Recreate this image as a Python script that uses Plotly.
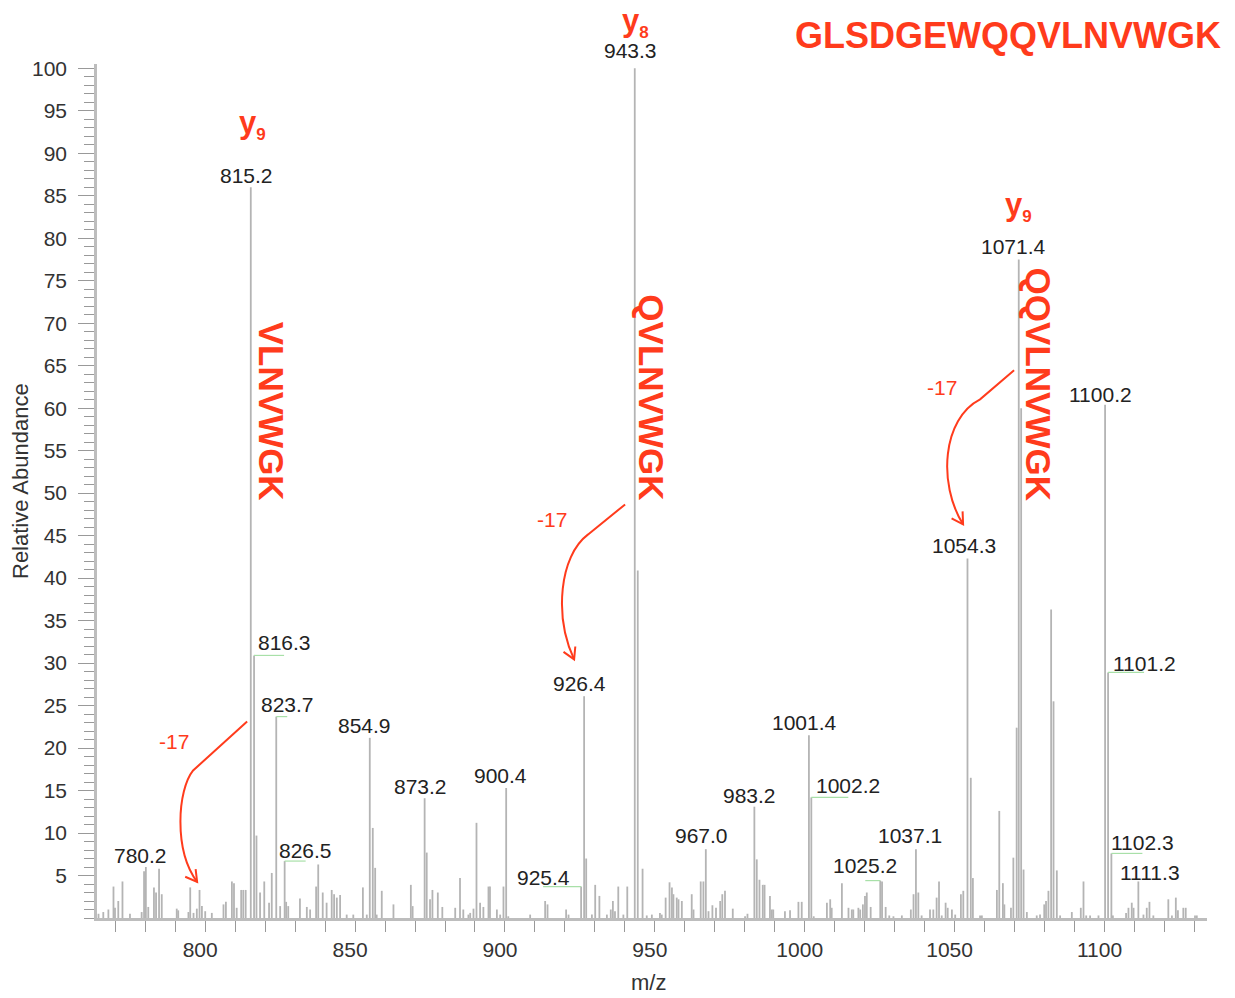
import math
import plotly.graph_objects as go

# ---- spectrum data -------------------------------------------------------
# unannotated centroid peaks (m/z, relative abundance %)
peak_mz = [
    764.4, 766.0, 767.7, 769.4, 769.9, 771.0, 772.4, 774.9, 778.8, 779.6,
    781.0, 782.9, 783.6, 784.6, 785.5, 790.5, 791.0, 794.4, 795.0, 796.1,
    797.2, 798.1, 798.9, 800.0, 802.2, 806.1, 806.9, 808.9, 809.6, 810.5,
    812.0, 812.7, 813.5, 817.1, 818.3, 819.7, 821.3, 822.2, 825.0, 827.0,
    827.7, 831.6, 833.9, 835.0, 837.0, 837.7, 839.2, 840.5, 842.2, 843.0,
    843.9, 845.0, 847.2, 849.4, 852.6, 853.9, 855.9, 856.7, 857.2, 858.9,
    862.8, 868.6, 869.2, 873.9, 875.0, 875.8, 877.6, 879.1, 883.4, 885.0,
    886.1, 887.8, 888.4, 889.5, 890.5, 891.7, 892.8, 894.5, 895.0, 897.3,
    898.4, 899.5, 901.1, 908.4, 913.4, 914.2, 920.4, 921.2, 927.1, 929.0,
    930.1, 931.5, 934.0, 935.3, 936.0, 936.7, 937.8, 939.5, 940.8, 944.3,
    945.9, 947.3, 949.0, 951.7, 952.3, 953.6, 954.9, 955.7, 956.2, 957.3,
    957.9, 959.0, 962.3, 962.9, 965.3, 966.2, 967.9, 969.2, 970.4, 971.8,
    972.5, 973.4, 976.0, 980.1, 980.9, 984.0, 984.9, 986.0, 986.6, 988.4,
    989.0, 989.5, 993.4, 995.1, 997.9, 999.0, 1003.0, 1007.4, 1008.5, 1009.0,
    1012.4, 1014.6, 1015.7, 1016.2, 1017.9, 1018.5, 1019.4, 1020.1, 1020.7, 1022.0,
    1025.8, 1027.0, 1028.2, 1029.6, 1032.4, 1035.4, 1036.3, 1037.9, 1039.0, 1041.8,
    1042.9, 1044.0, 1044.8, 1045.7, 1047.0, 1047.7, 1049.1, 1050.2, 1052.1, 1052.9,
    1055.4, 1056.1, 1058.5, 1059.1, 1064.1, 1064.9, 1066.1, 1066.6, 1068.8, 1069.6,
    1070.7, 1072.2, 1073.0, 1074.1, 1077.4, 1078.5, 1079.9, 1080.5, 1081.3, 1082.2,
    1083.0, 1084.1, 1085.2, 1089.1, 1092.1, 1093.0, 1093.9, 1095.2, 1098.0, 1102.8,
    1107.2, 1108.0, 1109.1, 1109.7, 1113.0, 1114.1, 1115.0, 1116.3, 1121.3, 1122.5,
    1123.8, 1124.5, 1126.3, 1127.1, 1130.2, 1130.8,
]
peak_abund = [
    0.5, 0.7, 1.0, 3.7, 1.2, 2.0, 4.3, 0.5, 0.7, 5.5,
    1.3, 3.6, 3.0, 5.8, 2.8, 1.1, 0.9, 0.7, 3.6, 0.6,
    1.1, 3.3, 1.4, 0.8, 0.6, 1.6, 1.9, 4.3, 4.1, 1.2,
    3.3, 3.3, 3.3, 9.7, 3.0, 4.3, 1.8, 5.3, 1.4, 1.9,
    1.4, 2.3, 1.3, 1.0, 3.7, 6.3, 3.0, 1.8, 3.3, 2.8,
    2.4, 2.7, 0.4, 0.4, 3.6, 0.4, 10.6, 5.9, 0.4, 3.2,
    1.6, 3.9, 1.4, 7.7, 2.2, 3.3, 3.0, 1.3, 1.2, 4.7,
    1.0, 0.4, 0.6, 1.1, 11.2, 1.8, 1.3, 3.7, 3.7, 1.0,
    0.4, 3.7, 0.2, 0.4, 2.0, 1.6, 1.0, 0.4, 7.0, 0.4,
    3.9, 2.6, 0.4, 1.0, 2.0, 0.8, 3.7, 0.4, 3.7, 40.9,
    5.8, 0.3, 0.4, 0.6, 0.4, 2.4, 4.2, 3.6, 2.8, 2.4,
    2.2, 2.0, 2.8, 1.0, 4.3, 4.3, 0.8, 1.5, 1.2, 2.0,
    2.8, 3.2, 1.1, 0.2, 0.5, 6.9, 4.5, 3.9, 3.9, 2.6,
    1.0, 1.0, 0.8, 0.9, 1.9, 1.9, 0.2, 1.8, 2.2, 1.2,
    4.1, 1.2, 1.0, 1.0, 1.2, 1.0, 1.6, 2.6, 3.0, 1.3,
    4.3, 1.3, 0.3, 0.2, 0.3, 1.0, 2.8, 3.0, 0.3, 1.0,
    1.0, 2.4, 4.3, 0.3, 1.8, 1.2, 1.0, 0.4, 2.8, 3.2,
    16.5, 4.7, 0.3, 0.3, 3.3, 12.6, 4.1, 1.6, 1.2, 7.1,
    22.4, 60.0, 5.7, 0.7, 0.3, 0.4, 1.6, 2.0, 3.2, 36.3,
    25.5, 5.6, 0.3, 0.7, 1.2, 4.3, 0.3, 0.3, 0.3, 0.3,
    0.6, 1.2, 1.8, 1.2, 0.4, 1.2, 1.9, 0.3, 2.2, 0.3,
    2.4, 0.9, 1.2, 1.2, 0.3, 0.3,
]

# annotated peaks
label_mz = [780.2, 815.2, 816.3, 823.7, 826.5, 854.9, 873.2, 900.4, 925.4, 926.4,
            943.3, 967.0, 983.2, 1001.4, 1002.2, 1025.2, 1037.1, 1054.3, 1071.4,
            1100.2, 1101.2, 1102.3, 1111.3]
label_abund = [6.0, 86.0, 30.9, 23.7, 6.7, 21.2, 14.1, 15.3, 3.7, 26.1,
               100.0, 8.1, 13.1, 21.5, 14.2, 4.4, 8.1, 42.3, 77.5,
               60.4, 28.9, 7.6, 4.3]

# fragment ion assignments: (ion, index, m/z)
ion_type = ["y", "y", "y"]
ion_index = ["9", "8", "9"]
ion_mz = [815.2, 943.3, 1071.4]
ion_sequence = ["VLNVWGK", "QVLNVWGK", "QQVLNVWGK"]

# ammonia losses (-17): precursor fragment -> product peak
loss_product_mz = [798.1, 926.4, 1054.3]
loss_product_abund = [3.3, 26.1, 42.3]

peptide = "GLSDGEWQQVLNVWGK"

# x/y tick values
x_ticks = [800, 850, 900, 950, 1000, 1050, 1100]
y_ticks = list(range(5, 101, 5))

# ---- styling ---------------------------------------------------------------
RED = "#ff3b1c"
PEAK = "#b4b4b4"
FONT = "Arial, 'Liberation Sans', sans-serif"

# label placement tweaks (pixel offsets from the peak apex)
label_dx = {816.3: 30, 823.7: 11, 826.5: 21, 925.4: -38, 1002.2: 37,
            1025.2: -15, 1101.2: 36, 1102.3: 31, 1111.3: 12, 780.2: -5,
            854.9: -5, 873.2: -4, 900.4: -6, 926.4: -5, 983.2: -5,
            1037.1: -6, 1054.3: -3, 1071.4: -5, 1100.2: -5}
label_dy = {943.3: 18, 816.3: 13, 826.5: 11, 925.4: 9, 926.4: 13, 967.0: 14,
            983.2: 11, 1001.4: 13, 1025.2: 15, 1037.1: 14, 1054.3: 13,
            1071.4: 13, 1100.2: 10, 1101.2: 9, 1102.3: 11, 1111.3: 9}
underlined = {816.3, 823.7, 826.5, 925.4, 1002.2, 1025.2, 1101.2, 1102.3}

ion_dx = [2, 1, 0]
ion_dy = [63, 46, 53]
seq_dx = [21, 17, 20]
seq_level = [59.6, 61.3, 62.8]

# curved arrow geometry in pixels relative to each product peak (y up)
arrow_geom = [
    dict(start=(47.6, 168.5), kink=(-6.4, 119.5), c1=(-22, 100), c2=(-26, 40), tip=(-2.4, 8)),
    dict(start=(41, 191.8), kink=(4, 161.8), c1=(-25, 140), c2=(-30, 80), tip=(-10, 36.8)),
    dict(start=(46.6, 188.2), kink=(12.6, 159.2), c1=(-25, 140), c2=(-30, 75), tip=(-4.4, 34.2)),
]
loss_text_offset = [(-26, 148.5), (-32, 176.8), (-25.4, 171.2)]

# ---- figure ---------------------------------------------------------------
all_mz = peak_mz + label_mz
all_ab = peak_abund + label_abund

xs, ys = [], []
for m, a in zip(all_mz, all_ab):
    xs += [m, m, None]
    ys += [0, a, None]

fig = go.Figure()
fig.add_trace(go.Scatter(x=xs, y=ys, mode="lines",
                         line=dict(color=PEAK, width=1.8),
                         hoverinfo="skip", showlegend=False))

annotations = []
shapes = []

for m, a in zip(label_mz, label_abund):
    dx = label_dx.get(m, -4)
    dy = label_dy.get(m, 12)
    annotations.append(dict(x=m, y=a, xref="x", yref="y", text=f"{m:.1f}",
                            showarrow=False, xshift=dx, yshift=dy,
                            xanchor="center", yanchor="middle",
                            font=dict(family=FONT, size=21, color="#222")))
    if m in underlined:
        shapes.append(dict(type="line", xref="x", yref="y", xsizemode="pixel",
                           xanchor=m, x0=0, x1=dx, y0=a, y1=a,
                           line=dict(color="#a8e0a8", width=1.2)))

for t, i, m, dx, dy in zip(ion_type, ion_index, ion_mz, ion_dx, ion_dy):
    a = label_abund[label_mz.index(m)]
    annotations.append(dict(
        x=m, y=a, xref="x", yref="y", showarrow=False, xshift=dx, yshift=dy,
        borderpad=0,
        text=f"<b>{t}<sub><span style='font-size:17px'>{i}</span></sub></b>",
        font=dict(family=FONT, size=31, color=RED)))

for s, m, dx, lv in zip(ion_sequence, ion_mz, seq_dx, seq_level):
    annotations.append(dict(x=m, y=lv, xref="x", yref="y", showarrow=False,
                            xshift=dx, text=f"<b>{s}</b>", textangle=90,
                            font=dict(family=FONT, size=35, color=RED)))


def fmt(p):
    return f"{p[0]:.1f},{p[1]:.1f}"


for m, a, g, (tx, ty) in zip(loss_product_mz, loss_product_abund, arrow_geom, loss_text_offset):
    body = (f"M{fmt(g['start'])} L{fmt(g['kink'])} "
            f"C{fmt(g['c1'])} {fmt(g['c2'])} {fmt(g['tip'])}")
    dxv = g["tip"][0] - g["c2"][0]
    dyv = g["tip"][1] - g["c2"][1]
    n = math.hypot(dxv, dyv)
    ux, uy = dxv / n, dyv / n
    wings = []
    for ang in (math.radians(30), -math.radians(30)):
        rx = ux * math.cos(ang) - uy * math.sin(ang)
        ry = ux * math.sin(ang) + uy * math.cos(ang)
        wings.append((g["tip"][0] - 13 * rx, g["tip"][1] - 13 * ry))
    head = f"M{fmt(wings[0])} L{fmt(g['tip'])} L{fmt(wings[1])}"
    for path in (body, head):
        shapes.append(dict(type="path", xref="x", yref="y",
                           xsizemode="pixel", ysizemode="pixel",
                           xanchor=m, yanchor=a, path=path,
                           line=dict(color=RED, width=2)))
    annotations.append(dict(x=m, y=a, xref="x", yref="y", showarrow=False,
                            xshift=tx, yshift=ty, text="-17",
                            font=dict(family=FONT, size=21, color=RED)))

# peptide sequence
annotations.append(dict(x=1.0144, y=1.0328, xref="paper", yref="paper",
                        xanchor="right", yanchor="middle", showarrow=False,
                        text=f"<b>{peptide}</b>",
                        font=dict(family=FONT, size=36, color=RED)))
# axis titles
annotations.append(dict(x=0, y=0.5117, xref="paper", yref="paper", xshift=-77,
                        xanchor="center", yanchor="middle", showarrow=False,
                        text="Relative Abundance", textangle=-90,
                        font=dict(family=FONT, size=22, color="#333")))
annotations.append(dict(x=0.4964, y=0, xref="paper", yref="paper", yshift=-64,
                        xanchor="center", yanchor="middle", showarrow=False,
                        text="m/z", font=dict(family=FONT, size=22, color="#333")))

fig.update_layout(
    width=1235, height=998,
    margin=dict(l=97, r=28, t=64, b=80),
    paper_bgcolor="white", plot_bgcolor="white",
    showlegend=False,
    annotations=annotations,
    shapes=shapes,
    xaxis=dict(range=[763.9, 1134.2], tickvals=x_ticks, ticks="outside",
               ticklen=11, tickcolor="#999", tickwidth=1.2,
               showline=True, linecolor="#bdbdbd", linewidth=2.5,
               showgrid=False, zeroline=False, ticklabelshift=-5,
               ticklabelstandoff=0,
               tickfont=dict(family=FONT, size=21, color="#333"),
               minor=dict(dtick=10, tick0=800, ticks="outside", ticklen=11,
                          tickcolor="#999", tickwidth=1.2, showgrid=False)),
    yaxis=dict(range=[0, 100.5], tickvals=y_ticks, ticks="outside",
               ticklen=16, tickcolor="#999", tickwidth=1.2,
               showline=True, linecolor="#bdbdbd", linewidth=2.5,
               showgrid=False, zeroline=False, ticklabelstandoff=7,
               tickfont=dict(family=FONT, size=21, color="#333"),
               minor=dict(dtick=1, tick0=0, ticks="outside", ticklen=10,
                          tickcolor="#999", tickwidth=1.2, showgrid=False)),
)

fig.write_html("out.html")
